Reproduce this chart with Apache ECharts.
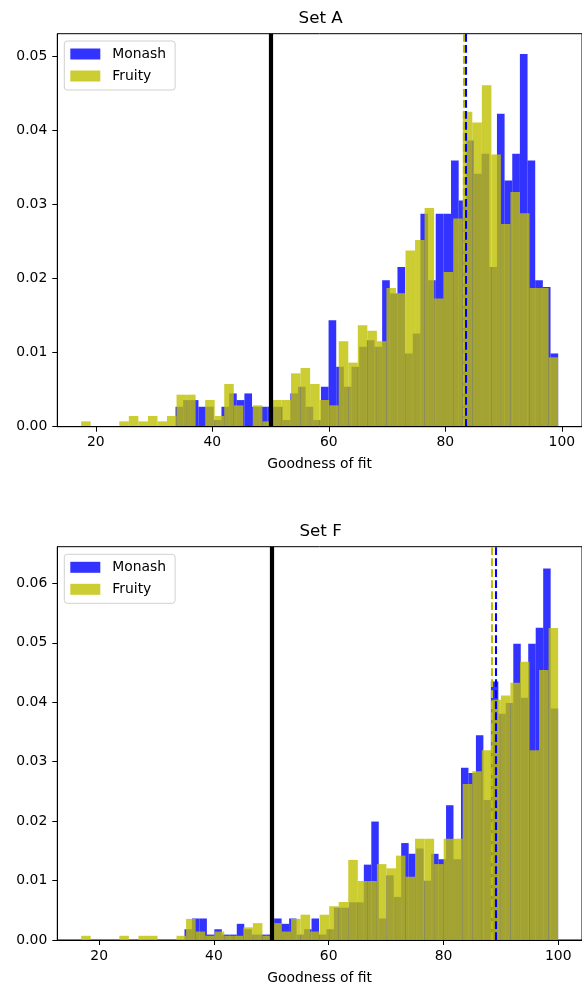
<!DOCTYPE html>
<html><head><meta charset="utf-8">
<script src="https://cdn.jsdelivr.net/npm/echarts@6/dist/echarts.min.js"></script>
<style>html,body{margin:0;padding:0;background:#fff}#c{width:582px;height:986px}</style>
</head><body><div id="c"></div>
<script>
// ---------- data ----------
const seriesNames = ['Monash', 'Fruity'];
const xTicks = [20, 40, 60, 80, 100];
const yTicksA = [0, 0.01, 0.02, 0.03, 0.04, 0.05];
const yTicksF = [0, 0.01, 0.02, 0.03, 0.04, 0.05, 0.06];
const threshold = 50;

// Set A: histogram ranges (first bin left edge, last bin right edge), 50 bins each
const setA_monash_range = [33.69, 99.37];
const setA_fruity_range = [17.49, 99.37];
const setA_monash = [0.00269,0.00359,0.00359,0.00269,0.00269,0.0009,0.00269,0.00449,0.00359,0.00449,
 0.00269,0.00269,0.00269,0.00269,0.0009,0.00449,0.00539,0.00269,0.0009,0.00539,
 0.01437,0.00808,0.00539,0.00808,0.01078,0.01167,0.01078,0.01976,0.01796,0.02155,
 0.00988,0.01257,0.02874,0.01976,0.02874,0.02874,0.03592,0.03053,0.03861,0.03412,
 0.03682,0.02155,0.04221,0.03323,0.03682,0.05029,0.03592,0.01976,0.01886,0.00988];
const setA_fruity = [0.00072,0,0,0,0.00072,0.00144,0.00072,0.00144,0.00072,0.00144,
 0.00432,0.00432,0,0.0036,0.00144,0.00576,0.00288,0,0.00288,0.00072,
 0.0036,0.0036,0.0072,0.00792,0.00576,0.0036,0.00288,0.01152,0.00864,0.01368,
 0.01296,0.01152,0.01872,0.018,0.02376,0.0252,0.02952,0.01728,0.02088,0.02808,
 0.04248,0.04104,0.04608,0.03672,0.02736,0.03168,0.0288,0.01872,0.01872,0.00936];
const setA_mean_monash = 83.5;
const setA_mean_fruity = 83.15;

// Set F
const setF_monash_range = [34.87, 99.98];
const setF_fruity_range = [16.87, 99.98];
const setF_monash = [0.00181,0.00362,0.00362,0.00091,0.00181,0.00091,0.00091,0.00272,0.00181,0.00091,
 0.00091,0.00091,0.00362,0.00272,0.00362,0.00091,0.00181,0.00362,0.00091,0.00181,
 0.00544,0.00544,0.00634,0.00634,0.01268,0.01993,0.00362,0.01087,0.00725,0.01631,
 0.0145,0.0154,0.00997,0.0145,0.01359,0.02265,0.01359,0.02899,0.02809,0.03443,
 0.02356,0.04349,0.03805,0.03986,0.04983,0.04077,0.04983,0.05255,0.06251,0.03896];
const setF_fruity = [0.00071,0,0,0,0.00071,0,0.00071,0.00071,0,0,
 0.00071,0.00355,0.00142,0.00071,0.00142,0.00071,0.00071,0.00213,0.00284,0.00071,
 0.00284,0.00142,0.00355,0.00426,0.00142,0.00426,0.00568,0.00639,0.01348,0.00993,
 0.00993,0.01277,0.01206,0.01419,0.01064,0.01703,0.01703,0.01277,0.01703,0.01703,
 0.02625,0.02838,0.03193,0.04044,0.04115,0.04328,0.04683,0.03193,0.04541,0.0525];
const setF_mean_monash = 89.07;
const setF_mean_fruity = 88.45;

// ---------- styling ----------
const FONT = 'DejaVu Sans';
const BLUE = 'rgba(0,0,255,0.8)';
const YEL = 'rgba(191,191,0,0.8)';

function binRows(range, values) {
  const n = values.length, w = (range[1] - range[0]) / n;
  return values.map((v, i) => [range[0] + i * w, range[0] + (i + 1) * w, v]);
}
function hist(name, idx, range, values, color, z, lines) {
  const s = {
    type: 'custom', name: name, xAxisIndex: idx, yAxisIndex: idx, z: z,
    silent: true, itemStyle: { color: color },
    data: binRows(range, values), encode: { x: [0, 1], y: 2 },
    renderItem: function (params, api) {
      const p0 = api.coord([api.value(0), api.value(2)]);
      const p1 = api.coord([api.value(1), 0]);
      return { type: 'rect', shape: { x: p0[0], y: p0[1], width: p1[0] - p0[0], height: p1[1] - p0[1] },
        style: { fill: color } };
    }
  };
  if (lines) {
    s.markLine = {
      silent: true, symbol: ['none', 'none'], label: { show: false }, animation: false,
      emphasis: { disabled: true },
      data: [
        { xAxis: threshold, lineStyle: { color: '#000', width: 4.2, type: 'solid' } },
        { xAxis: lines[1], lineStyle: { color: '#bfbf00', width: 2.1, type: [7.7, 3.3] } },
        { xAxis: lines[0], lineStyle: { color: '#0000ff', width: 2.1, type: [7.7, 3.3] } }
      ]
    };
  }
  return s;
}
function xAx(idx, min, max) {
  return {
    type: 'value', gridIndex: idx, min: min, max: max, z: 10,
    axisLine: { show: true, onZero: false, lineStyle: { color: '#000', width: 1 } },
    axisTick: { show: true, length: 5, lineStyle: { color: '#000', width: 1 }, customValues: xTicks },
    axisLabel: { fontSize: 13.9, color: '#000', margin: 9, fontFamily: FONT, customValues: xTicks },
    splitLine: { show: false },
    name: 'Goodness of fit', nameLocation: 'middle', nameGap: 31,
    nameTextStyle: { fontSize: 13.9, color: '#000', fontFamily: FONT }
  };
}
function yAx(idx, max, ticks) {
  return {
    type: 'value', gridIndex: idx, min: 0, max: max, z: 10,
    axisLine: { show: true, lineStyle: { color: '#000', width: 1 } },
    axisTick: { show: true, length: 5, lineStyle: { color: '#000', width: 1 }, customValues: ticks },
    axisLabel: { fontSize: 13.9, color: '#000', margin: 10, fontFamily: FONT, customValues: ticks,
      formatter: v => v.toFixed(2) },
    splitLine: { show: false }
  };
}
function legend(top) {
  return {
    data: seriesNames, orient: 'vertical', left: 64.3, top: top,
    padding: [6, 9, 7, 6], itemGap: 8, itemWidth: 30, itemHeight: 11, icon: 'rect',
    backgroundColor: 'rgba(255,255,255,0.8)', borderColor: '#d0d0d0', borderWidth: 1, borderRadius: 3,
    selectedMode: false,
    textStyle: { fontSize: 13.9, color: '#000', fontFamily: FONT, lineHeight: 14, padding: [0, 0, 0, 7] }
  };
}

const chart = echarts.init(document.getElementById('c'), null, { renderer: 'canvas' });
chart.setOption({
  animation: false,
  backgroundColor: '#fff',
  textStyle: { fontFamily: FONT },
  title: [
    { text: 'Set A', left: 320.6, top: 10.5, textAlign: 'center', padding: 0,
      textStyle: { fontSize: 16.7, fontWeight: 'normal', color: '#000', fontFamily: FONT } },
    { text: 'Set F', left: 320.6, top: 523.5, textAlign: 'center', padding: 0,
      textStyle: { fontSize: 16.7, fontWeight: 'normal', color: '#000', fontFamily: FONT } }
  ],
  legend: [legend(41), legend(554.3)],
  grid: [
    { left: 57.3, right: -2, top: 33.7, bottom: 559.3, show: true, borderColor: '#000', borderWidth: 1, backgroundColor: 'transparent' },
    { left: 57.3, right: -3, top: 546.7, bottom: 46, show: true, borderColor: '#000', borderWidth: 1, backgroundColor: 'transparent' }
  ],
  xAxis: [xAx(0, 13.40, 103.46), xAx(1, 12.71, 104.14)],
  yAxis: [yAx(0, 0.05302, yTicksA), yAx(1, 0.06617, yTicksF)],
  series: [
    hist('Monash', 0, setA_monash_range, setA_monash, BLUE, 2),
    hist('Fruity', 0, setA_fruity_range, setA_fruity, YEL, 3, [setA_mean_monash, setA_mean_fruity]),
    hist('Monash', 1, setF_monash_range, setF_monash, BLUE, 2),
    hist('Fruity', 1, setF_fruity_range, setF_fruity, YEL, 3, [setF_mean_monash, setF_mean_fruity])
  ]
});
</script></body></html>
